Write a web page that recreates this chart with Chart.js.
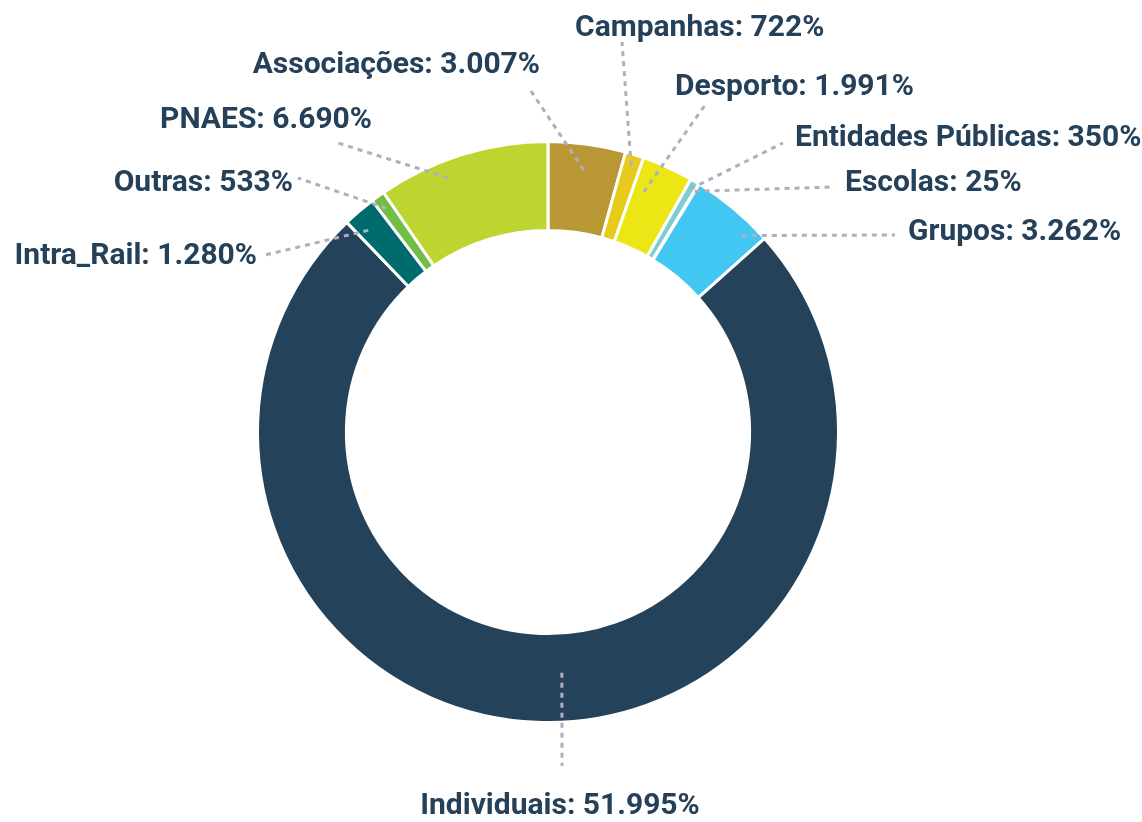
<!DOCTYPE html>
<html lang="pt">
<head>
<meta charset="utf-8">
<title>Distribuição por segmento</title>
<script src="https://cdn.jsdelivr.net/npm/chart.js@4.4.1/dist/chart.umd.min.js"></script>
<style>
  html, body { margin: 0; padding: 0; background: #fff; }
  #wrap { position: relative; width: 1142px; height: 822px; }
</style>
</head>
<body>
<div id="wrap"><canvas id="chart"></canvas></div>
<script>
// dados
const categories = ['Associações', 'Campanhas', 'Desporto', 'Entidades Públicas', 'Escolas',
                    'Grupos', 'Individuais', 'Intra_Rail', 'Outras', 'PNAES'];
const values = [3007, 722, 1991, 350, 25, 3262, 51995, 1280, 533, 6690];
const sliceColors = ['#b99734', '#e8cb1a', '#ece714', '#7dcdd1', '#2f9fc9',
                     '#42c6f2', '#25425b', '#006b6d', '#72bd43', '#bed431'];

// posição das etiquetas, em px a partir do centro do anel
// r = raio do ponto de partida (fração do raio exterior), shift = desvio angular em graus
const labelLayout = [
  { text: [-8, -367],  align: 'right',  end: [-17, -341], r: 0.91, shift: 0 },
  { text: [27, -404],  align: 'left',   end: [74, -390],  r: 0.96, shift: 0 },
  { text: [127, -345], align: 'left',   end: [157, -327], r: 0.89, shift: -2.6 },
  { text: [247, -294], align: 'left',   end: [235, -289], r: 0.97, shift: 0 },
  { text: [297, -249], align: 'left',   end: [285, -245], r: 0.97, shift: 0 },
  { text: [360, -200], align: 'left',   end: [347, -197], r: 0.95, shift: 4.8 },
  { text: [12, 374],   align: 'center', end: [14, 334],   r: 0.83, shift: -5.5 },
  { text: [-291, -176], align: 'right', end: [-283, -177], r: 0.93, shift: -1.2 },
  { text: [-255, -249], align: 'right', end: [-250, -254], r: 0.95, shift: 0 },
  { text: [-176, -312], align: 'right', end: [-210, -289], r: 0.94, shift: -4.2 }
];

const fmtNum = v => String(v).replace(/\B(?=(\d{3})+(?!\d))/g, '.');

const leaderLabels = {
    id: 'leaderLabels',
    afterDatasetsDraw(chart, args, opts) {
        const ctx = chart.ctx;
        const arcs = chart.getDatasetMeta(0).data;
        ctx.save();
        arcs.forEach((arc, i) => {
            const lay = labelLayout[i];
            if (!lay) return;
            const { x, y, startAngle, endAngle, outerRadius } =
                arc.getProps(['x', 'y', 'startAngle', 'endAngle', 'outerRadius'], true);
            const mid = (startAngle + endAngle) / 2 + lay.shift * Math.PI / 180;
            const ax = x + Math.cos(mid) * outerRadius * lay.r;
            const ay = y + Math.sin(mid) * outerRadius * lay.r;

            ctx.beginPath();
            ctx.setLineDash(opts.dash);
            ctx.lineWidth = opts.lineWidth;
            ctx.strokeStyle = opts.lineColor;
            ctx.moveTo(ax, ay);
            ctx.lineTo(x + lay.end[0], y + lay.end[1]);
            ctx.stroke();

            ctx.setLineDash([]);
            ctx.font = opts.font;
            ctx.fillStyle = opts.color;
            ctx.textAlign = lay.align;
            ctx.textBaseline = 'middle';
            const label = chart.data.labels[i] + ': ' + fmtNum(chart.data.datasets[0].data[i]) + '%';
            ctx.fillText(label, x + lay.text[0], y + lay.text[1]);
        });
        ctx.restore();
    }
};

new Chart(document.getElementById('chart'), {
    type: 'doughnut',
    data: {
        labels: categories,
        datasets: [{
            data: values,
            backgroundColor: sliceColors,
            borderColor: '#ffffff',
            borderWidth: 3,
            hoverOffset: 0
        }]
    },
    options: {
        responsive: true,
        maintainAspectRatio: false,
        animation: false,
        events: [],
        cutout: '69.4%',
        layout: { padding: { top: 140, bottom: 98, left: 256, right: 302 } },
        plugins: {
            legend: { display: false },
            tooltip: { enabled: false },
            leaderLabels: {
                font: 'bold 30px Roboto, "Liberation Sans", sans-serif',
                color: '#25415a',
                lineColor: '#afafc0',
                lineWidth: 3,
                dash: [5, 5]
            }
        }
    },
    plugins: [leaderLabels]
});
</script>
</body>
</html>
